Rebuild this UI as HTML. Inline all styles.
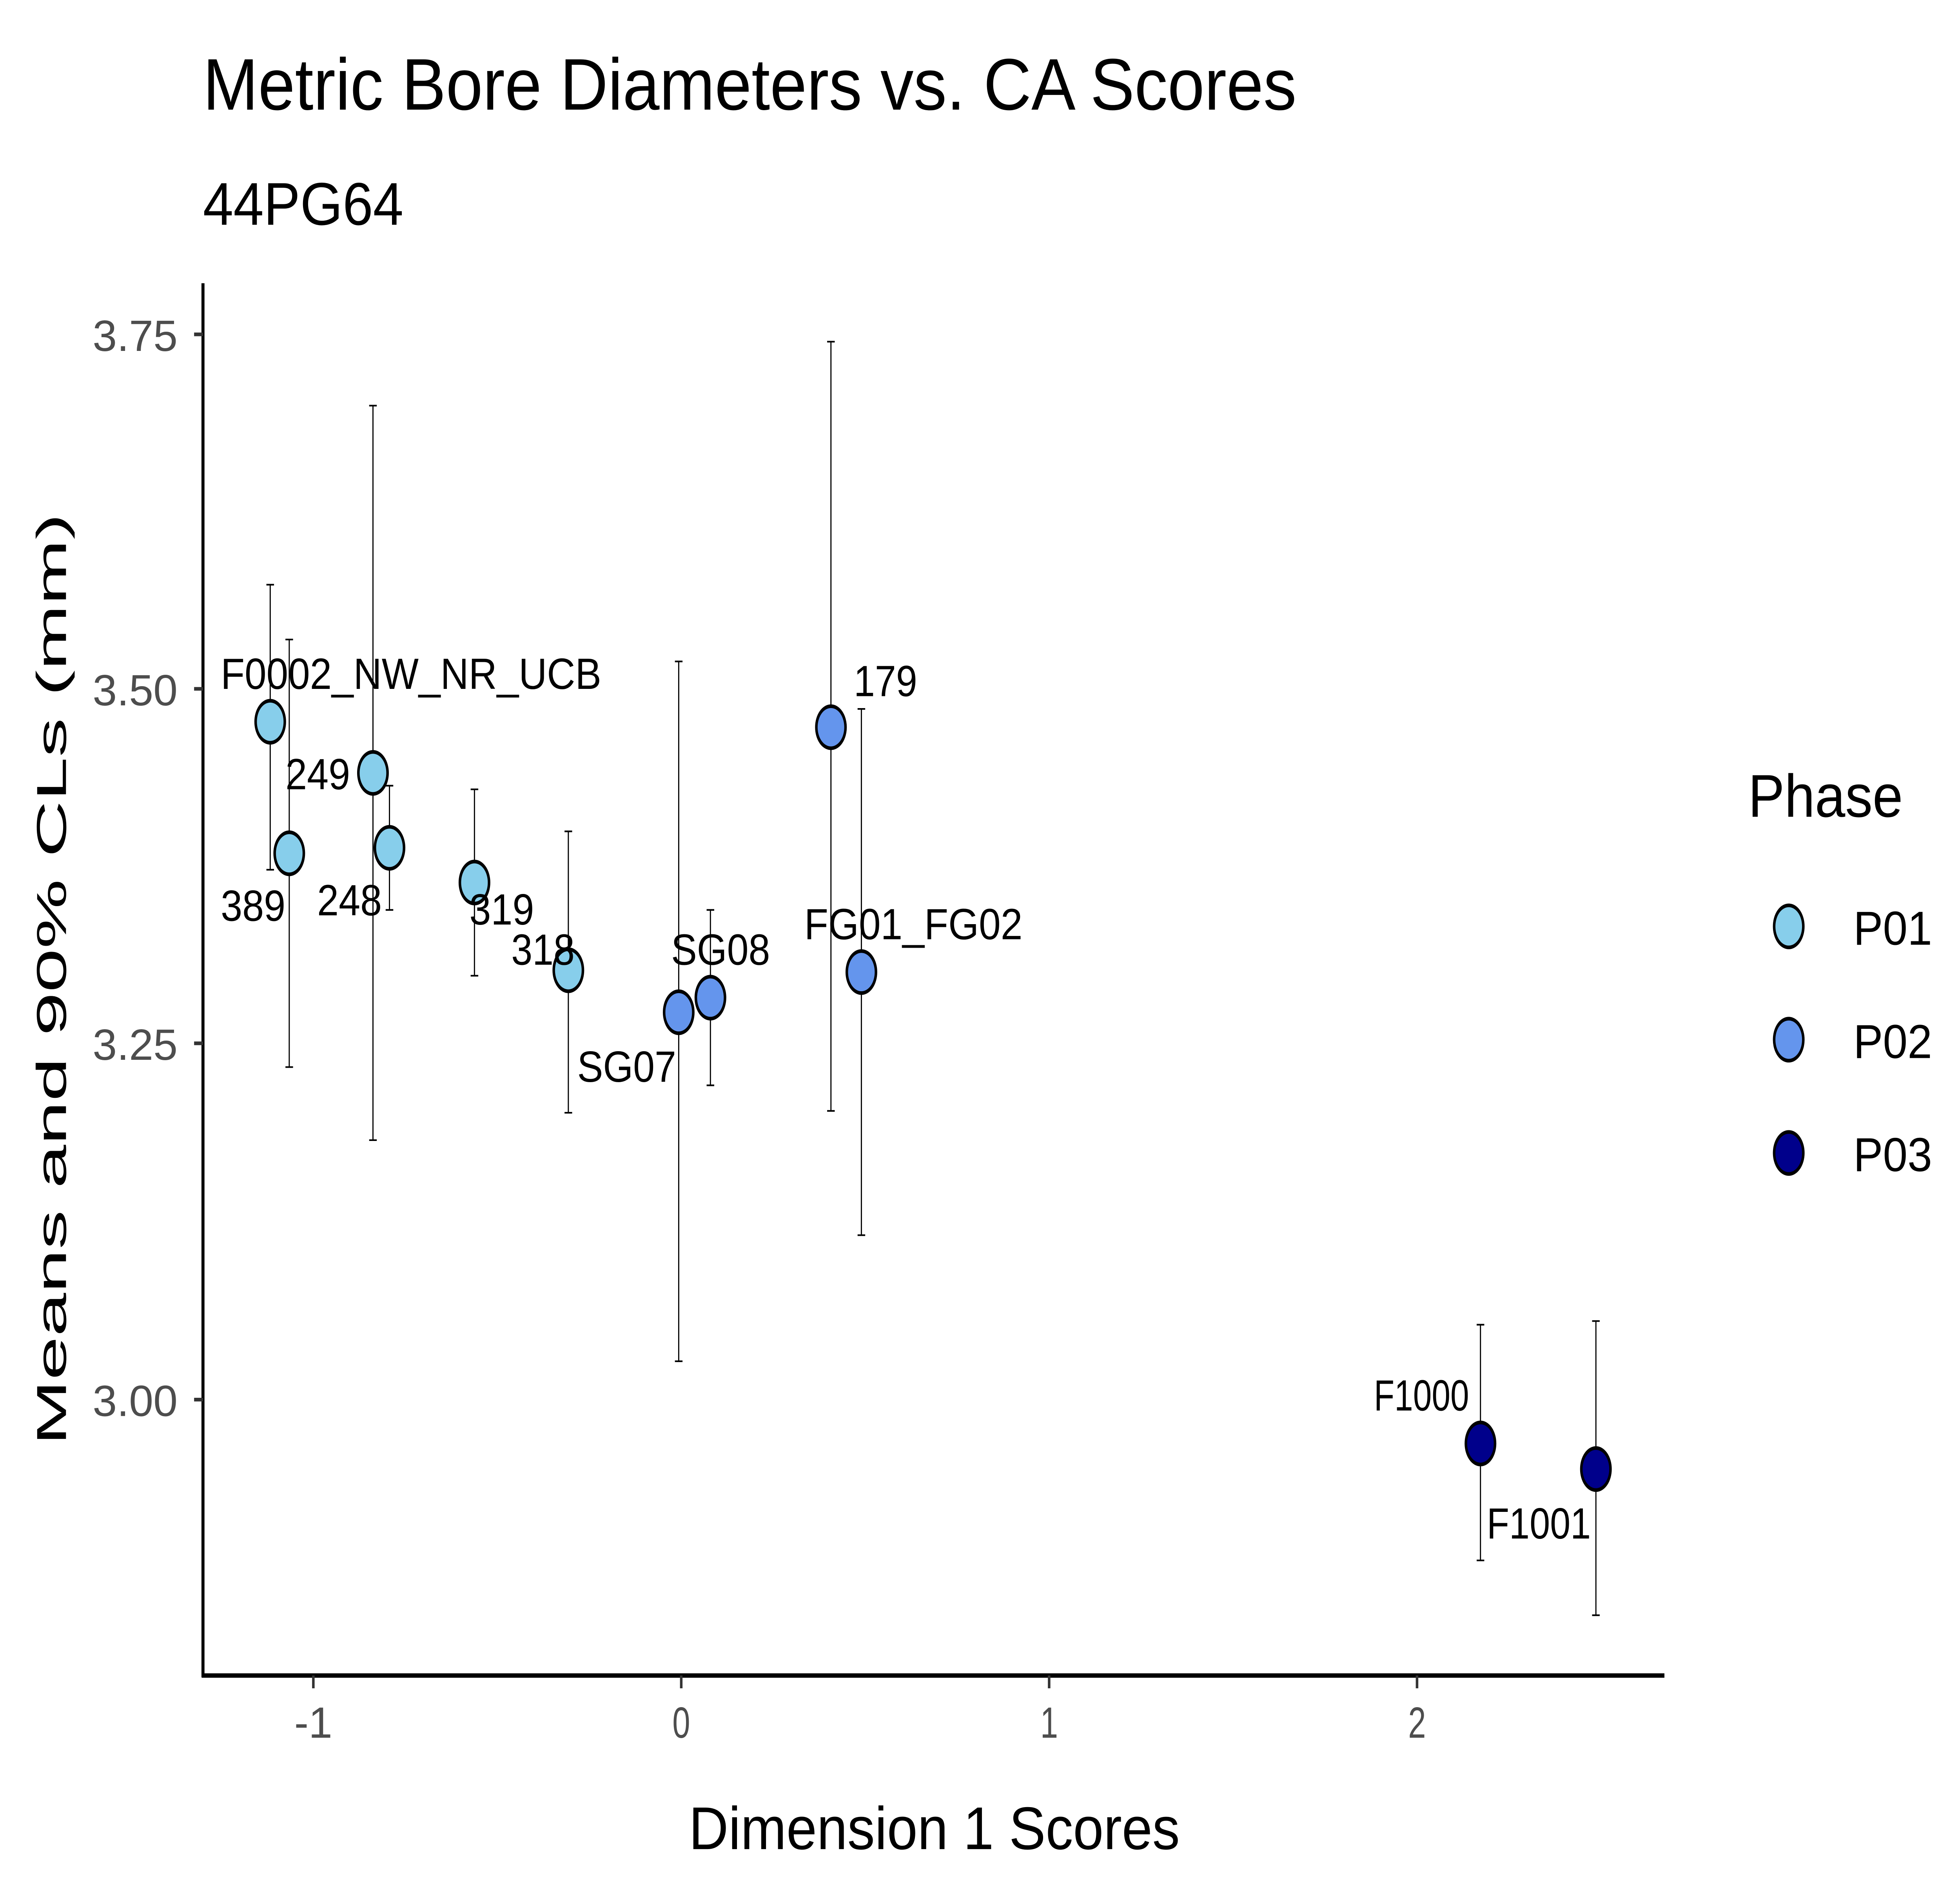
<!DOCTYPE html>
<html><head><meta charset="utf-8"><style>
html,body{margin:0;padding:0;background:#fff;overflow:hidden;width:100%;height:100%;}
svg{display:block;width:100vw;height:100vh;}
text{font-family:"Liberation Sans",Arial,sans-serif;}
</style></head><body>
<svg viewBox="0 0 1545 1030" preserveAspectRatio="none" xmlns="http://www.w3.org/2000/svg">
<rect width="1545" height="1030" fill="#fff"/>
<text x="160" y="60" font-size="40" fill="#000" textLength="862" lengthAdjust="spacingAndGlyphs">Metric Bore Diameters vs. CA Scores</text>
<text x="160" y="123" font-size="33" fill="#000" textLength="158" lengthAdjust="spacingAndGlyphs">44PG64</text>
<line x1="160" y1="155" x2="160" y2="918" stroke="#000" stroke-width="2.4"/>
<line x1="159" y1="917" x2="1312" y2="917" stroke="#000" stroke-width="2.4"/>
<g stroke="#333" stroke-width="2">
<line x1="153" y1="183" x2="160" y2="183"/><line x1="153" y1="377" x2="160" y2="377"/>
<line x1="153" y1="571" x2="160" y2="571"/><line x1="153" y1="766" x2="160" y2="766"/>
<line x1="247" y1="917" x2="247" y2="924"/><line x1="537" y1="917" x2="537" y2="924"/>
<line x1="827" y1="917" x2="827" y2="924"/><line x1="1117" y1="917" x2="1117" y2="924"/>
</g>
<g font-size="24" fill="#4d4d4d">
<text x="73" y="192" textLength="67" lengthAdjust="spacingAndGlyphs">3.75</text>
<text x="73" y="386" textLength="67" lengthAdjust="spacingAndGlyphs">3.50</text>
<text x="73" y="580" textLength="67" lengthAdjust="spacingAndGlyphs">3.25</text>
<text x="73" y="775" textLength="67" lengthAdjust="spacingAndGlyphs">3.00</text>
</g>
<g font-size="24" fill="#4d4d4d">
<text x="232" y="951" textLength="30" lengthAdjust="spacingAndGlyphs">-1</text>
<text x="530" y="951" textLength="14" lengthAdjust="spacingAndGlyphs">0</text>
<text x="820" y="951" textLength="14" lengthAdjust="spacingAndGlyphs">1</text>
<text x="1110" y="951" textLength="14" lengthAdjust="spacingAndGlyphs">2</text>
</g>
<text x="543" y="1012" font-size="33" fill="#000" textLength="387" lengthAdjust="spacingAndGlyphs">Dimension 1 Scores</text>
<text transform="translate(52,536) rotate(-90)" x="-255" y="0" font-size="33" fill="#000" textLength="510" lengthAdjust="spacingAndGlyphs">Means and 90% CLs (mm)</text>
<g stroke="#000" stroke-width="0.9" fill="none">
<path d="M213,320V476M210,320h6M210,476h6"/>
<path d="M228,350V584M225,350h6M225,584h6"/>
<path d="M294,222V624M291,222h6M291,624h6"/>
<path d="M307,430V498M304,430h6M304,498h6"/>
<path d="M374,432V534M371,432h6M371,534h6"/>
<path d="M448,455V609M445,455h6M445,609h6"/>
<path d="M535,362V745M532,362h6M532,745h6"/>
<path d="M560,498V594M557,498h6M557,594h6"/>
<path d="M655,187V608M652,187h6M652,608h6"/>
<path d="M679,388V676M676,388h6M676,676h6"/>
<path d="M1167,725V854M1164,725h6M1164,854h6"/>
<path d="M1258,723V884M1255,723h6M1255,884h6"/>
</g>
<g stroke="#000" stroke-width="2">
<circle cx="213" cy="395" r="11.5" fill="#87CEEB"/>
<circle cx="228" cy="467" r="11.5" fill="#87CEEB"/>
<circle cx="294" cy="423" r="11.5" fill="#87CEEB"/>
<circle cx="307" cy="464" r="11.5" fill="#87CEEB"/>
<circle cx="374" cy="483" r="11.5" fill="#87CEEB"/>
<circle cx="448" cy="531" r="11.5" fill="#87CEEB"/>
<circle cx="535" cy="554" r="11.5" fill="#6495ED"/>
<circle cx="560" cy="546" r="11.5" fill="#6495ED"/>
<circle cx="655" cy="398" r="11.5" fill="#6495ED"/>
<circle cx="679" cy="532" r="11.5" fill="#6495ED"/>
<circle cx="1167" cy="790" r="11.5" fill="#00008B"/>
<circle cx="1258" cy="804" r="11.5" fill="#00008B"/>
</g>
<g font-size="24" fill="#000">
<text x="174" y="377" textLength="300" lengthAdjust="spacingAndGlyphs">F0002_NW_NR_UCB</text>
<text x="225" y="432" textLength="51" lengthAdjust="spacingAndGlyphs">249</text>
<text x="174" y="504" textLength="51" lengthAdjust="spacingAndGlyphs">389</text>
<text x="250" y="501" textLength="51" lengthAdjust="spacingAndGlyphs">248</text>
<text x="370" y="506" textLength="51" lengthAdjust="spacingAndGlyphs">319</text>
<text x="403" y="528" textLength="50" lengthAdjust="spacingAndGlyphs">318</text>
<text x="455" y="592" textLength="78" lengthAdjust="spacingAndGlyphs">SG07</text>
<text x="529" y="528" textLength="78" lengthAdjust="spacingAndGlyphs">SG08</text>
<text x="673" y="381" textLength="50" lengthAdjust="spacingAndGlyphs">179</text>
<text x="634" y="514" textLength="172" lengthAdjust="spacingAndGlyphs">FG01_FG02</text>
<text x="1083" y="772" textLength="75" lengthAdjust="spacingAndGlyphs">F1000</text>
<text x="1172" y="842" textLength="82" lengthAdjust="spacingAndGlyphs">F1001</text>
</g>
<text x="1378" y="447" font-size="33" fill="#000" textLength="122" lengthAdjust="spacingAndGlyphs">Phase</text>
<g stroke="#000" stroke-width="2">
<circle cx="1410" cy="507" r="11.5" fill="#87CEEB"/>
<circle cx="1410" cy="569" r="11.5" fill="#6495ED"/>
<circle cx="1410" cy="631" r="11.5" fill="#00008B"/>
</g>
<g font-size="26" fill="#000">
<text x="1461" y="517" textLength="62" lengthAdjust="spacingAndGlyphs">P01</text>
<text x="1461" y="579" textLength="62" lengthAdjust="spacingAndGlyphs">P02</text>
<text x="1461" y="641" textLength="62" lengthAdjust="spacingAndGlyphs">P03</text>
</g>
</svg>
</body></html>
